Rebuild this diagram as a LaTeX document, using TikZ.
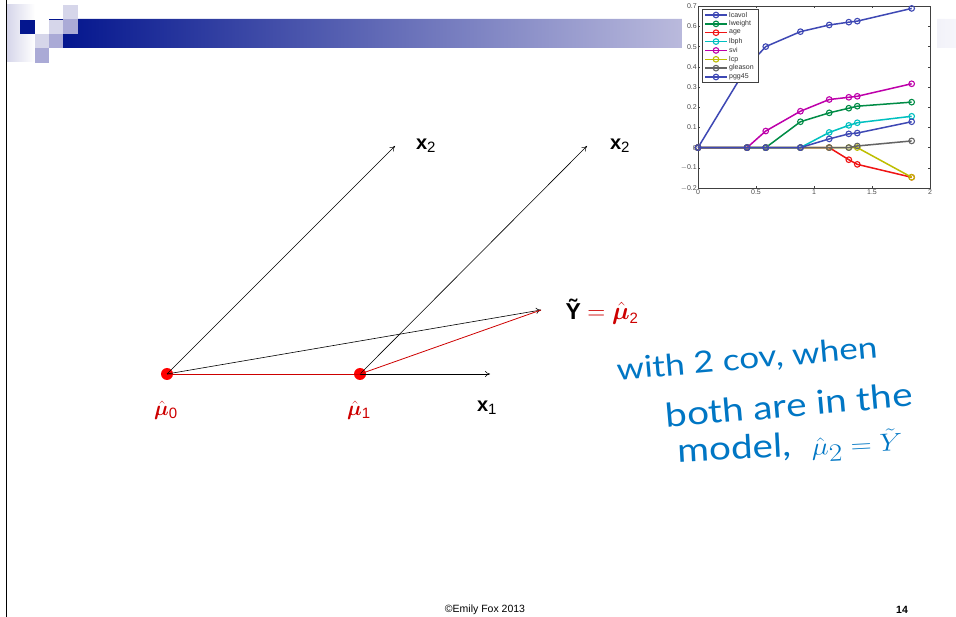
\documentclass[tikz,border=0pt]{standalone}
\usepackage{amsmath, amssymb, bm}
\usepackage{fontspec}
\setmainfont{Liberation Sans}
\setsansfont{Liberation Sans}
\newfontfamily\handfont{Lato}
\usepackage{xcolor}
\usetikzlibrary{arrows.meta,plotmarks}

\definecolor{hdrnavy}{RGB}{4,22,142}
\definecolor{hdrlav}{RGB}{185,185,220}
\definecolor{hdrpale}{RGB}{246,246,251}
\definecolor{sqlight}{RGB}{214,214,234}
\definecolor{sqmid}{RGB}{170,170,214}
\definecolor{dotred}{RGB}{255,0,0}
\definecolor{lnred}{RGB}{205,0,0}
\definecolor{inkblue}{RGB}{0,118,196}
\definecolor{cavol}{RGB}{62,72,180}
\definecolor{cweight}{RGB}{0,140,70}
\definecolor{cage}{RGB}{240,20,20}
\definecolor{cbph}{RGB}{0,192,192}
\definecolor{csvi}{RGB}{190,0,170}
\definecolor{clcp}{RGB}{190,190,0}
\definecolor{cglea}{RGB}{100,100,100}

\pgfdeclarehorizontalshading{hdrbar}{100bp}{color(0bp)=(hdrnavy); color(25bp)=(hdrnavy);
  color(59.5bp)=(hdrlav); color(75bp)=(hdrpale); color(100bp)=(hdrpale)}

\newcommand{\subsf}[1]{\mbox{\fontsize{15}{15}\selectfont\sffamily #1}}
\newcommand{\handtext}[2]{\scalebox{1.17}[1]{\handfont\fontsize{#1}{#1}\selectfont #2}}

\tikzset{
  vec/.style={-{To[length=5pt,width=6pt]}, line width=0.6pt},
  fitline/.style={lnred, line width=0.8pt},
  muDot/.style={circle, fill=dotred, inner sep=0pt, minimum size=12pt},
  lbl/.style={font=\fontsize{20}{24}\selectfont},
  redlbl/.style={lbl, text=lnred},
  hand/.style={text=inkblue, rotate=5, inner sep=0pt},
  axbox/.style={draw=black!75, line width=0.4pt},
  ticklbl/.style={font=\fontsize{7}{8}\selectfont, text=black!70, inner sep=1pt},
  series/.style={line width=1.5pt, mark=o, mark size=2.8pt, mark options={line width=1.1pt}},
}

\begin{document}
\begin{tikzpicture}[x=1pt, y=-1pt]
  \useasboundingbox (0,0) rectangle (956,617);
  % slide header
  \shade[left color=sqlight, right color=white] (7,5) rectangle (35,62);
  \shade[shading=hdrbar] (63,34) -- (78,34) -- (78,19) -- (956,19) -- (956,48) -- (63,48) -- cycle;
  \fill[hdrnavy] (20,20) rectangle (35,34);
  \fill[sqlight] (35,34) rectangle (49,48);
  \fill[sqmid] (35,48) rectangle (49,63);
  \fill[sqlight] (49,20) rectangle (63,34);
  \fill[sqmid] (49,34) rectangle (63,48);
  \fill[hdrnavy] (49,19) rectangle (63,20);
  \fill[sqlight] (63,5) rectangle (78,19);
  \fill[sqmid] (63,19) rectangle (78,34);
  \draw[line width=1.6pt] (6.5,0) -- (6.5,617);

  % lasso path figure
  \fill[white] (682,0) rectangle (937,200);
  \begin{scope}[shift={(698,147.6)}, x=116pt, y=202pt]
    \foreach \t in {0,0.5,1,1.5,2} {
      \draw[axbox] (\t,-0.2) -- ++(0,2pt);
      \draw[axbox] (\t,0.7) -- ++(0,-2pt);
      \node[ticklbl, anchor=north] at (\t,-0.2) {\t};
    }
    \foreach \v/\s in {0.7/0.7,0.6/0.6,0.5/0.5,0.4/0.4,0.3/0.3,0.2/0.2,0.1/0.1,0/0,-0.1/$-$0.1,-0.2/$-$0.2} {
      \draw[axbox] (0,\v) -- ++(2pt,0);
      \draw[axbox] (2,\v) -- ++(-2pt,0);
      \node[ticklbl, anchor=east] at (0,\v) {\s};
    }
    \draw[axbox] (0,-0.2) rectangle (2,0.7);
    \draw[series, cavol] plot coordinates {(0,0) (0.423,0.40) (0.584,0.50) (0.883,0.574) (1.131,0.607) (1.300,0.621) (1.373,0.626) (1.842,0.689)};
    \draw[series, cweight] plot coordinates {(0,0) (0.423,0) (0.584,0) (0.883,0.128) (1.131,0.172) (1.300,0.195) (1.373,0.205) (1.842,0.225)};
    \draw[series, cage] plot coordinates {(0,0) (0.423,0) (0.584,0) (0.883,0) (1.131,0) (1.300,-0.06) (1.373,-0.083) (1.842,-0.147)};
    \draw[series, cbph] plot coordinates {(0,0) (0.423,0) (0.584,0) (0.883,0) (1.131,0.075) (1.300,0.11) (1.373,0.123) (1.842,0.155)};
    \draw[series, csvi] plot coordinates {(0,0) (0.423,0) (0.584,0.082) (0.883,0.18) (1.131,0.238) (1.300,0.249) (1.373,0.254) (1.842,0.316)};
    \draw[series, clcp] plot coordinates {(0,0) (0.423,0) (0.584,0) (0.883,0) (1.131,0) (1.300,0) (1.373,0) (1.842,-0.147)};
    \draw[series, cglea] plot coordinates {(0,0) (0.423,0) (0.584,0) (0.883,0) (1.131,0) (1.300,0) (1.373,0.008) (1.842,0.033)};
    \draw[series, cavol] plot coordinates {(0,0) (0.423,0) (0.584,0) (0.883,0) (1.131,0.043) (1.300,0.068) (1.373,0.072) (1.842,0.128)};
  \end{scope}
  \draw[axbox, fill=white] (702,9) rectangle (758,82);
  \foreach \nm/\cl [count=\i] in {lcavol/cavol,lweight/cweight,age/cage,lbph/cbph,svi/csvi,lcp/clcp,gleason/cglea,pgg45/cavol} {
    \pgfmathsetmacro{\ly}{15+8.86*(\i-1)}
    \draw[\cl, line width=1.5pt] (705,\ly) -- (727,\ly);
    \draw[\cl, line width=1.1pt] (716,\ly) circle (2.8pt);
    \node[ticklbl, anchor=west, text=black!80] at (728,\ly) {\nm};
  }

  % geometry of the fits
  \node[muDot] (mu0) at (167,374) {};
  \node[muDot] (mu1) at (360,374) {};
  \coordinate (x1end) at (490,374);
  \coordinate (x2endA) at (395,146);
  \coordinate (x2endB) at (587,146);
  \coordinate (yend) at (541,310);
  \draw[vec] (mu0.center) -- (x1end);
  \draw[fitline] (mu0.center) -- (mu1.center);
  \draw[vec] (mu0.center) -- (x2endA);
  \draw[vec] (mu1.center) -- (x2endB);
  \draw[vec] (mu0.center) -- (yend);
  \draw[fitline] (mu1.center) -- (yend);

  \node[lbl] (x2lblA) at (426,146) {\textbf{x}$_{\subsf{2}}$};
  \node[lbl] (x2lblB) at (620,146) {\textbf{x}$_{\subsf{2}}$};
  \node[lbl] (x1lbl) at (487,408) {\textbf{x}$_{\subsf{1}}$};
  \node[redlbl] (mu0lbl) at (166,410) {$\bm{\hat{\mu}}_{\subsf{0}}$};
  \node[redlbl] (mu1lbl) at (359,410) {$\bm{\hat{\mu}}_{\subsf{1}}$};
  \node[lbl, font=\fontsize{23}{26}\selectfont, anchor=west] (ylbl) at (562,312) {\textbf{\~{Y}} \textcolor{lnred}{$=\bm{\hat{\mu}}_{\subsf{2}}$}};

  % handwritten note
  \node[hand] (note1) at (747,360) {\handtext{30}{with 2 cov, when}};
  \node[hand] (note2) at (789,405) {\handtext{33}{both are in the}};
  \node[hand, rotate=-2] (note3) at (790,448) {\handtext{33}{model,\; $\hat{\mu}_2=\tilde{Y}$}};

  \node[font=\fontsize{10.5}{12}\selectfont] (copy) at (485,610) {\textcopyright Emily Fox 2013};
  \node[font=\fontsize{10.5}{12}\selectfont\bfseries] (pagenum) at (902,610) {14};
\end{tikzpicture}
\end{document}
